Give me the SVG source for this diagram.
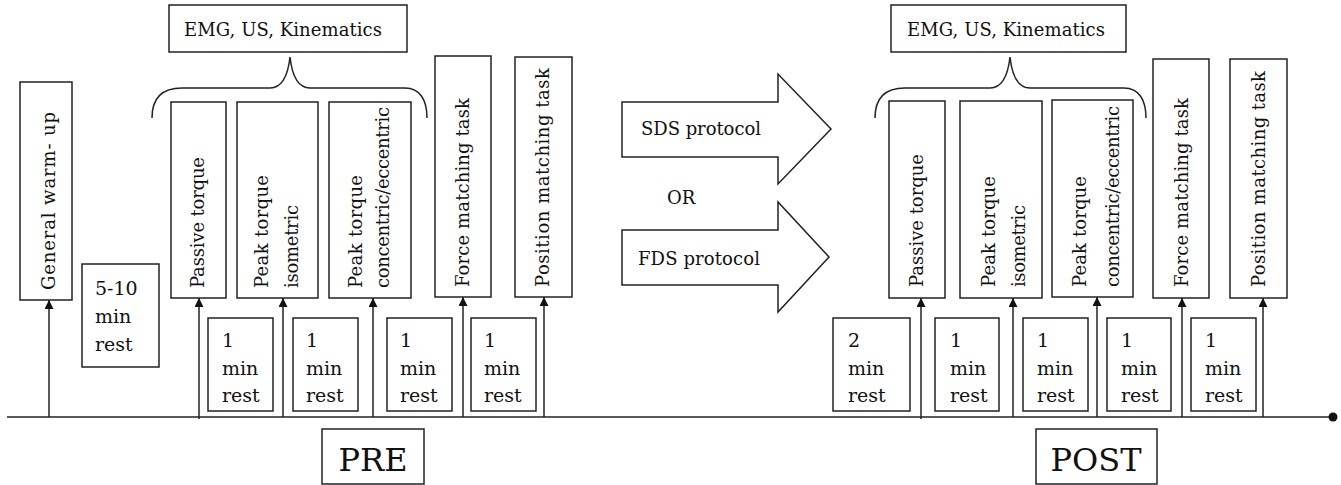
<svg xmlns="http://www.w3.org/2000/svg" width="1341" height="485" viewBox="0 0 1341 485">
<style>
  .box{fill:#fff;stroke:#222;stroke-width:1.5}
  .ln{fill:none;stroke:#222;stroke-width:1.5}
  .t{font-family:"DejaVu Serif","Liberation Serif",serif;font-size:18px;fill:#111}
  .r{font-family:"DejaVu Serif","Liberation Serif",serif;font-size:19px;fill:#111}
  .big{font-family:"DejaVu Serif","Liberation Serif",serif;font-size:32px;fill:#111}
</style>
<defs>
  <marker id="ah" viewBox="0 0 10 10" refX="10" refY="5" markerWidth="9" markerHeight="9" markerUnits="userSpaceOnUse" orient="auto">
    <path d="M0,0 L10,5 L0,10 z" fill="#111"/>
  </marker>
</defs>
<rect width="1341" height="485" fill="#fff"/>

<!-- PRE section -->
<g id="pre-emg"><rect class="box" x="169" y="5" width="238" height="47"/><text class="t" x="184" y="36" textLength="198">EMG, US, Kinematics</text></g>
<g id="pre-brace"><path class="ln" d="M152,118 C152,100 160,88 182,88 L270,88 C282,88 288,75 290,57 C292,75 298,88 310,88 L405,88 C420,88 427,100 427,118"/></g>
<g id="warmup"><rect class="box" x="20" y="82" width="52" height="218"/><text class="t" transform="translate(55,290) rotate(-90)" textLength="178">General warm- up</text></g>
<g id="rest-5-10"><rect class="box" x="82" y="264" width="77" height="103"/><text class="r" x="95" y="295">5-10</text><text class="r" x="95" y="323">min</text><text class="r" x="95" y="351">rest</text></g>
<g id="pre-passive"><rect class="box" x="171" y="102" width="55" height="196"/><text class="t" transform="translate(204,288) rotate(-90)" textLength="131">Passive torque</text></g>
<g id="pre-iso"><rect class="box" x="237" y="102" width="81" height="196"/><text class="t" transform="translate(268,288) rotate(-90)" textLength="113">Peak torque</text><text class="t" transform="translate(298,288) rotate(-90)" textLength="83">isometric</text></g>
<g id="pre-conc"><rect class="box" x="329" y="102" width="82" height="196"/><text class="t" transform="translate(362,288) rotate(-90)" textLength="113">Peak torque</text><text class="t" transform="translate(389,288) rotate(-90)" textLength="181">concentric/eccentric</text></g>
<g id="pre-force"><rect class="box" x="435" y="56" width="56" height="241"/><text class="t" transform="translate(469,287) rotate(-90)" textLength="189">Force matching task</text></g>
<g id="pre-position"><rect class="box" x="515" y="57" width="57" height="240"/><text class="t" transform="translate(549,287) rotate(-90)" textLength="219">Position matching task</text></g>
<g id="pre-rest1"><rect class="box" x="208" y="318" width="65" height="93"/><text class="r" x="222" y="347">1</text><text class="r" x="222" y="375">min</text><text class="r" x="222" y="402">rest</text></g>
<g id="pre-rest2"><rect class="box" x="293" y="318" width="65" height="93"/><text class="r" x="306" y="347">1</text><text class="r" x="306" y="375">min</text><text class="r" x="306" y="402">rest</text></g>
<g id="pre-rest3"><rect class="box" x="387" y="318" width="65" height="93"/><text class="r" x="400" y="347">1</text><text class="r" x="400" y="375">min</text><text class="r" x="400" y="402">rest</text></g>
<g id="pre-rest4"><rect class="box" x="471" y="318" width="65" height="93"/><text class="r" x="484" y="347">1</text><text class="r" x="484" y="375">min</text><text class="r" x="484" y="402">rest</text></g>
<g id="pre-label"><rect class="box" x="322" y="429" width="102" height="55"/><text class="big" x="373" y="471" text-anchor="middle">PRE</text></g>

<!-- protocols -->
<g id="sds"><polygon class="box" points="622,102 778,102 778,74 831,129 778,184 778,157 622,157"/><text class="t" x="641" y="135" textLength="120">SDS protocol</text></g>
<g id="or"><text class="t" x="667" y="204">OR</text></g>
<g id="fds"><polygon class="box" points="622,230 778,230 778,202 829,257 778,312 778,285 622,285"/><text class="t" x="638" y="265" textLength="122">FDS protocol</text></g>

<!-- POST section -->
<g id="post-emg"><rect class="box" x="891" y="5" width="235" height="47"/><text class="t" x="907" y="36" textLength="198">EMG, US, Kinematics</text></g>
<g id="post-brace"><path class="ln" d="M875,118 C875,100 883,88 905,88 L990,88 C1002,88 1008,75 1010,57 C1012,75 1018,88 1030,88 L1124,88 C1139,88 1146,100 1146,118"/></g>
<g id="post-passive"><rect class="box" x="889" y="101" width="56" height="197"/><text class="t" transform="translate(923,287) rotate(-90)" textLength="133">Passive torque</text></g>
<g id="post-iso"><rect class="box" x="960" y="101" width="82" height="197"/><text class="t" transform="translate(995,287) rotate(-90)" textLength="111">Peak torque</text><text class="t" transform="translate(1025,287) rotate(-90)" textLength="82">isometric</text></g>
<g id="post-conc"><rect class="box" x="1052" y="100" width="81" height="197"/><text class="t" transform="translate(1086,287) rotate(-90)" textLength="111">Peak torque</text><text class="t" transform="translate(1119,287) rotate(-90)" textLength="181">concentric/eccentric</text></g>
<g id="post-force"><rect class="box" x="1153" y="59" width="56" height="239"/><text class="t" transform="translate(1188,287) rotate(-90)" textLength="189">Force matching task</text></g>
<g id="post-position"><rect class="box" x="1230" y="59" width="57" height="239"/><text class="t" transform="translate(1265,287) rotate(-90)" textLength="216">Position matching task</text></g>
<g id="post-rest0"><rect class="box" x="833" y="318" width="77" height="93"/><text class="r" x="848" y="347">2</text><text class="r" x="848" y="375">min</text><text class="r" x="848" y="402">rest</text></g>
<g id="post-rest1"><rect class="box" x="935" y="318" width="64" height="93"/><text class="r" x="950" y="347">1</text><text class="r" x="950" y="375">min</text><text class="r" x="950" y="402">rest</text></g>
<g id="post-rest2"><rect class="box" x="1023" y="318" width="65" height="93"/><text class="r" x="1037" y="347">1</text><text class="r" x="1037" y="375">min</text><text class="r" x="1037" y="402">rest</text></g>
<g id="post-rest3"><rect class="box" x="1107" y="318" width="64" height="93"/><text class="r" x="1121" y="347">1</text><text class="r" x="1121" y="375">min</text><text class="r" x="1121" y="402">rest</text></g>
<g id="post-rest4"><rect class="box" x="1191" y="318" width="65" height="93"/><text class="r" x="1205" y="347">1</text><text class="r" x="1205" y="375">min</text><text class="r" x="1205" y="402">rest</text></g>
<g id="post-label"><rect class="box" x="1036" y="429" width="121" height="55"/><text class="big" x="1096" y="471" text-anchor="middle">POST</text></g>

<!-- connectors -->
<g id="connectors">
  <line class="ln" x1="7" y1="417" x2="1333" y2="417"/>
  <circle cx="1333" cy="417" r="4.5" fill="#111"/>
  <line class="ln" x1="49" y1="417" x2="49" y2="300" marker-end="url(#ah)"/>
  <line class="ln" x1="199" y1="419" x2="199" y2="298" marker-end="url(#ah)"/>
  <line class="ln" x1="283" y1="417" x2="283" y2="298" marker-end="url(#ah)"/>
  <line class="ln" x1="373" y1="417" x2="373" y2="298" marker-end="url(#ah)"/>
  <line class="ln" x1="463" y1="417" x2="463" y2="297" marker-end="url(#ah)"/>
  <line class="ln" x1="544" y1="417" x2="544" y2="297" marker-end="url(#ah)"/>
  <line class="ln" x1="921" y1="419" x2="921" y2="298" marker-end="url(#ah)"/>
  <line class="ln" x1="1013" y1="417" x2="1013" y2="298" marker-end="url(#ah)"/>
  <line class="ln" x1="1097" y1="417" x2="1097" y2="297" marker-end="url(#ah)"/>
  <line class="ln" x1="1182" y1="417" x2="1182" y2="298" marker-end="url(#ah)"/>
  <line class="ln" x1="1263" y1="417" x2="1263" y2="298" marker-end="url(#ah)"/>
</g>
</svg>
